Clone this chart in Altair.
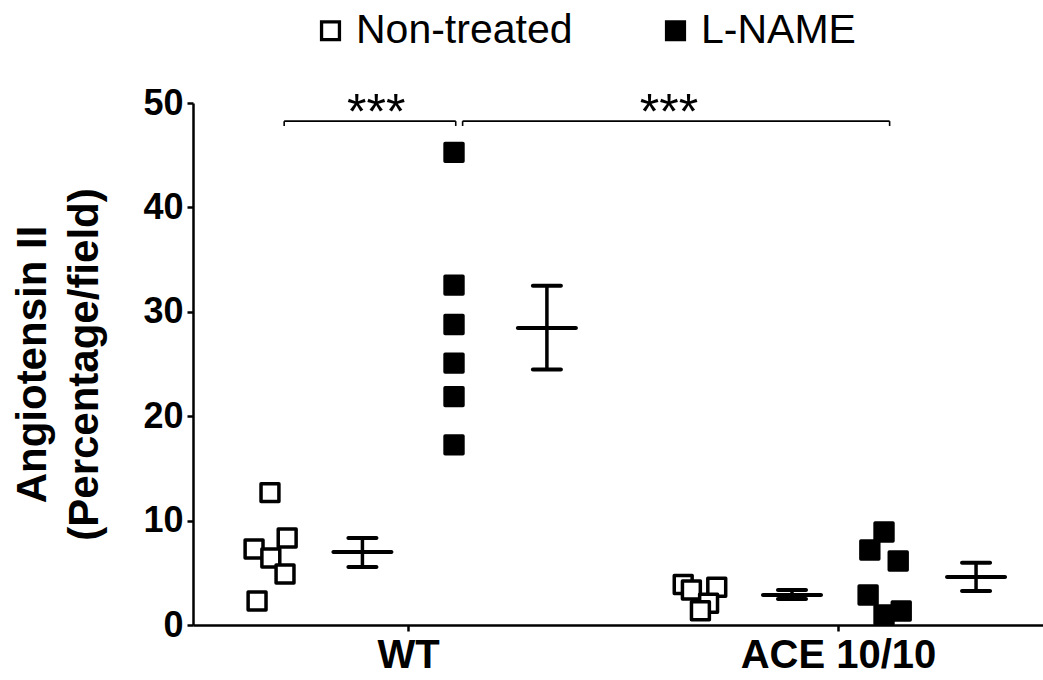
import altair as alt
import pandas as pd

# ---------------- data ----------------
groups = ["WT", "ACE 10/10"]
treatments = ["Non-treated", "L-NAME"]

wt_nt_vals = [12.68, 7.28, 8.34, 6.42, 4.89, 2.30]
wt_nt_jit = [-0.321, -0.358, -0.281, -0.319, -0.286, -0.351]
wt_ln_vals = [45.27, 32.56, 28.78, 25.08, 21.88, 17.25]
wt_ln_jit = [0.107, 0.107, 0.107, 0.107, 0.107, 0.107]
ace_nt_vals = [3.88, 3.35, 3.61, 2.08, 1.37]
ace_nt_jit = [-0.360, -0.341, -0.282, -0.301, -0.320]
ace_ln_vals = [8.91, 7.19, 6.13, 2.88, 1.34, 0.96]
ace_ln_jit = [0.107, 0.074, 0.140, 0.070, 0.147, 0.107]

summary_group = ["WT", "WT", "ACE 10/10", "ACE 10/10"]
summary_treat = ["Non-treated", "L-NAME", "Non-treated", "L-NAME"]
summary_offset = [-0.106, 0.323, -0.107, 0.321]
mean_vals = [7.0, 28.46, 2.88, 4.6]
sem_hi = [8.34, 32.49, 3.35, 5.97]
sem_lo = [5.56, 24.47, 2.49, 3.26]

bracket_x1 = [-0.288, 0.127]
bracket_x2 = [0.111, 1.12]
bracket_top = [48.26, 48.26]
bracket_foot = [47.8, 47.8]
star_x = [-0.074, 0.607]
star_y = [47.5, 47.5]
star_text = ["***", "***"]

x_domain = [-0.5, 1.4767]
y_ticks = [0, 10, 20, 30, 40, 50]

# ---------------- tables ----------------
rows = []
for g, t, vals, jit in [
    ("WT", "Non-treated", wt_nt_vals, wt_nt_jit),
    ("WT", "L-NAME", wt_ln_vals, wt_ln_jit),
    ("ACE 10/10", "Non-treated", ace_nt_vals, ace_nt_jit),
    ("ACE 10/10", "L-NAME", ace_ln_vals, ace_ln_jit),
]:
    for v, j in zip(vals, jit):
        rows.append({"group": g, "treatment": t, "x": groups.index(g) + j, "value": v})
points = pd.DataFrame(rows)

summary = pd.DataFrame({
    "x": [groups.index(g) + o for g, o in zip(summary_group, summary_offset)],
    "mean": mean_vals, "hi": sem_hi, "lo": sem_lo,
})

brackets = pd.DataFrame({"x1": bracket_x1, "x2": bracket_x2,
                         "top": bracket_top, "foot": bracket_foot})
stars = pd.DataFrame({"x": star_x, "y": star_y, "label": star_text})

FONT = "Liberation Sans"
xs = alt.Scale(domain=x_domain, nice=False, zero=False)
ys = alt.Scale(domain=[0, 50], nice=False)

label_expr = "[" + ",".join("'" + g + "'" for g in groups) + "][datum.value]"

x_axis = alt.Axis(values=[0, 1], labelExpr=label_expr, title=None,
                  labelFontSize=40, labelFont=FONT, labelFontWeight="bold",
                  labelPadding=4, tickSize=6, grid=False, labelFlush=False,
                  labelLimit=500, labelOverlap=False)
y_axis = alt.Axis(values=y_ticks, title=["Angiotensin II", "(Percentage/field)"],
                  titleFontSize=42, titleFont=FONT, titleFontWeight="bold",
                  titleLineHeight=52, titlePadding=36, titleLimit=600,
                  labelFontSize=36, labelFont=FONT, labelFontWeight="bold",
                  labelPadding=4, tickSize=6, grid=False)

pts = alt.Chart(points).mark_point(
    shape="square", filled=True, size=320, stroke="black", strokeWidth=3.5,
    strokeJoin="round", opacity=1
).encode(
    x=alt.X("x:Q", scale=xs, axis=x_axis),
    y=alt.Y("value:Q", scale=ys, axis=y_axis),
    fill=alt.Fill("treatment:N",
                  scale=alt.Scale(domain=treatments, range=["white", "black"]),
                  legend=alt.Legend(
                      title=None, orient="none", legendX=117, legendY=-93,
                      direction="horizontal", symbolType="square", symbolSize=320,
                      symbolStrokeColor="black", symbolStrokeWidth=3.3,
                      symbolOpacity=1, labelFont=FONT, labelFontSize=41,
                      labelLimit=500, labelOffset=5, columnPadding=82,
                      labelColor="black")),
)

mean_tick = alt.Chart(summary).mark_tick(
    orient="horizontal", size=62, thickness=4, color="black", cornerRadius=2, opacity=1
).encode(x=alt.X("x:Q", scale=xs), y=alt.Y("mean:Q", scale=ys))

cap_hi = alt.Chart(summary).mark_tick(
    orient="horizontal", size=32, thickness=4, color="black", cornerRadius=2, opacity=1
).encode(x=alt.X("x:Q", scale=xs), y=alt.Y("hi:Q", scale=ys))

cap_lo = alt.Chart(summary).mark_tick(
    orient="horizontal", size=32, thickness=4, color="black", cornerRadius=2, opacity=1
).encode(x=alt.X("x:Q", scale=xs), y=alt.Y("lo:Q", scale=ys))

sem_line = alt.Chart(summary).mark_rule(strokeWidth=3.5, color="black").encode(
    x=alt.X("x:Q", scale=xs), y=alt.Y("lo:Q", scale=ys), y2="hi:Q")

br_h = alt.Chart(brackets).mark_rule(strokeWidth=1.6, color="black").encode(
    x=alt.X("x1:Q", scale=xs), x2="x2:Q", y=alt.Y("top:Q", scale=ys))
br_l = alt.Chart(brackets).mark_rule(strokeWidth=1.6, color="black").encode(
    x=alt.X("x1:Q", scale=xs), y=alt.Y("top:Q", scale=ys), y2="foot:Q")
br_r = alt.Chart(brackets).mark_rule(strokeWidth=1.6, color="black").encode(
    x=alt.X("x2:Q", scale=xs), y=alt.Y("top:Q", scale=ys), y2="foot:Q")

star_txt = alt.Chart(stars).mark_text(
    font=FONT, fontSize=50, fontWeight="normal", baseline="alphabetic",
    align="center", color="black"
).encode(x=alt.X("x:Q", scale=xs), y=alt.Y("y:Q", scale=ys), text="label:N")

chart = alt.layer(
    br_h, br_l, br_r, star_txt, sem_line, cap_hi, cap_lo, mean_tick, pts
).properties(
    width=850, height=522,
    autosize=alt.AutoSizeParams(type="none"),
    padding={"left": 193, "top": 103, "right": 0, "bottom": 55},
    background="white",
).configure_view(stroke=None).configure_axis(
    domainColor="black", domainWidth=2.5, tickColor="black", tickWidth=2.5,
    labelColor="black", titleColor="black"
)

chart.save("out.html", embed_options={"renderer": "svg", "actions": False})
